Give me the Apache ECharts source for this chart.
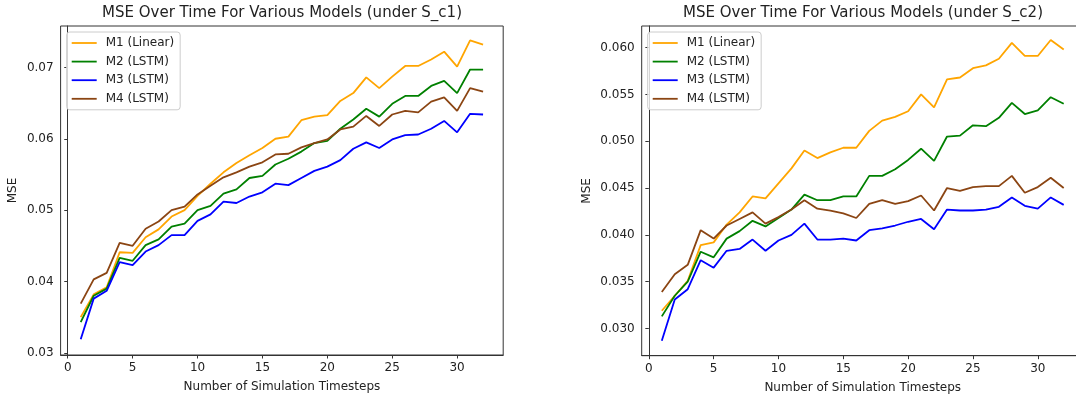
<!DOCTYPE html>
<html>
<head>
<meta charset="utf-8">
<script src="https://cdn.jsdelivr.net/npm/echarts@6/dist/echarts.min.js"></script>
<style>
  html, body { margin: 0; padding: 0; background: #fff; }
  #chart { width: 1076px; height: 398px; }
</style>
</head>
<body>
<div id="chart"></div>
<script>
// 横轴：模拟步数 1..32
const timesteps = [1, 2, 3, 4, 5, 6, 7, 8, 9, 10, 11, 12, 13, 14, 15, 16,
  17, 18, 19, 20, 21, 22, 23, 24, 25, 26, 27, 28, 29, 30, 31, 32];
const modelNames = ['M1 (Linear)', 'M2 (LSTM)', 'M3 (LSTM)', 'M4 (LSTM)'];

// S_c1
const c1M1 = [0.0350, 0.0382, 0.0392, 0.0441, 0.0440, 0.0462, 0.0473, 0.0491, 0.0500, 0.0520, 0.0537, 0.0553, 0.0566, 0.0577, 0.0587, 0.0600,
  0.0603, 0.0626, 0.0631, 0.0633, 0.0653, 0.0664, 0.0686, 0.0671, 0.0687, 0.0702, 0.0702, 0.0711, 0.0722, 0.0701, 0.0738, 0.0732];
const c1M2 = [0.0343, 0.0380, 0.0390, 0.0433, 0.0429, 0.0451, 0.0459, 0.0477, 0.0481, 0.0500, 0.0506, 0.0523, 0.0529, 0.0545, 0.0548, 0.0564,
  0.0572, 0.0582, 0.0594, 0.0597, 0.0614, 0.0627, 0.0642, 0.0631, 0.0649, 0.0660, 0.0660, 0.0674, 0.0681, 0.0664, 0.0697, 0.0697];
const c1M3 = [0.0319, 0.0376, 0.0387, 0.0427, 0.0423, 0.0442, 0.0451, 0.0465, 0.0465, 0.0485, 0.0494, 0.0512, 0.0510, 0.0519, 0.0525, 0.0537,
  0.0535, 0.0545, 0.0555, 0.0561, 0.0570, 0.0586, 0.0595, 0.0587, 0.0599, 0.0605, 0.0606, 0.0614, 0.0625, 0.0609, 0.0635, 0.0634];
const c1M4 = [0.0369, 0.0403, 0.0412, 0.0454, 0.0450, 0.0474, 0.0484, 0.0500, 0.0505, 0.0522, 0.0534, 0.0546, 0.0553, 0.0561, 0.0567, 0.0578,
  0.0579, 0.0588, 0.0594, 0.0599, 0.0613, 0.0617, 0.0632, 0.0618, 0.0634, 0.0639, 0.0637, 0.0652, 0.0658, 0.0639, 0.0671, 0.0666];

// S_c2
const c2M1 = [0.0319, 0.0335, 0.0351, 0.0389, 0.0392, 0.0411, 0.0424, 0.0441, 0.0439, 0.0455, 0.0471, 0.0490, 0.0482, 0.0488, 0.0493, 0.0493,
  0.0511, 0.0522, 0.0526, 0.0532, 0.0550, 0.0536, 0.0566, 0.0568, 0.0578, 0.0581, 0.0588, 0.0605, 0.0591, 0.0591, 0.0608, 0.0598];
const c2M2 = [0.0313, 0.0335, 0.0350, 0.0382, 0.0376, 0.0396, 0.0404, 0.0415, 0.0409, 0.0418, 0.0427, 0.0443, 0.0437, 0.0437, 0.0441, 0.0441,
  0.0463, 0.0463, 0.0470, 0.0480, 0.0492, 0.0479, 0.0505, 0.0506, 0.0517, 0.0516, 0.0525, 0.0541, 0.0529, 0.0533, 0.0547, 0.0540];
const c2M3 = [0.0287, 0.0331, 0.0342, 0.0373, 0.0365, 0.0383, 0.0385, 0.0395, 0.0383, 0.0394, 0.0400, 0.0412, 0.0395, 0.0395, 0.0396, 0.0394,
  0.0405, 0.0407, 0.0410, 0.0414, 0.0417, 0.0406, 0.0427, 0.0426, 0.0426, 0.0427, 0.0430, 0.0440, 0.0431, 0.0428, 0.0440, 0.0432];
const c2M4 = [0.0339, 0.0358, 0.0368, 0.0405, 0.0396, 0.0410, 0.0417, 0.0424, 0.0412, 0.0419, 0.0427, 0.0437, 0.0428, 0.0426, 0.0423, 0.0418,
  0.0433, 0.0437, 0.0433, 0.0436, 0.0442, 0.0426, 0.0450, 0.0447, 0.0451, 0.0452, 0.0452, 0.0463, 0.0445, 0.0451, 0.0461, 0.0450];

// 刻度
const xTicks = [0, 5, 10, 15, 20, 25, 30];
const c1YTicks = [0.03, 0.04, 0.05, 0.06, 0.07];
const c2YTicks = [0.030, 0.035, 0.040, 0.045, 0.050, 0.055, 0.060];

const colors = ['#FFA500', '#008000', '#0000FF', '#8B4513'];
const font = 'DejaVu Sans';
const ink = '#222';

function xAxisOf(gridIndex) {
  return {
    type: 'value', gridIndex: gridIndex, min: -0.55, max: 33.55,
    name: 'Number of Simulation Timesteps', nameLocation: 'middle', nameGap: 26,
    nameTextStyle: { fontFamily: font, fontSize: 12, color: ink },
    axisLine: { lineStyle: { color: '#333', width: 1 } },
    axisTick: { length: 3.5, lineStyle: { color: '#333' }, customValues: xTicks },
    axisLabel: { fontFamily: font, fontSize: 12, color: ink, margin: 7, customValues: xTicks },
    splitLine: { show: false }
  };
}

function yAxisOf(gridIndex, min, max, ticks, digits, gap) {
  return {
    type: 'value', gridIndex: gridIndex, min: min, max: max,
    name: 'MSE', nameLocation: 'middle', nameGap: gap,
    nameTextStyle: { fontFamily: font, fontSize: 12, color: ink },
    axisLine: { show: true, lineStyle: { color: '#333', width: 1 } },
    axisTick: { show: true, length: 3.5, lineStyle: { color: '#333' }, customValues: ticks },
    axisLabel: {
      fontFamily: font, fontSize: 12, color: ink, margin: 7, customValues: ticks,
      formatter: v => v.toFixed(digits)
    },
    splitLine: { show: false }
  };
}

function seriesOf(gridIndex, lists) {
  return lists.map((vals, k) => ({
    name: modelNames[k], type: 'line', xAxisIndex: gridIndex, yAxisIndex: gridIndex,
    data: timesteps.map((t, i) => [t, vals[i]]),
    symbol: 'none', animation: false,
    lineStyle: { color: colors[k], width: 1.8 },
    itemStyle: { color: colors[k] }
  }));
}

function legendOf(left) {
  return {
    data: modelNames, orient: 'vertical', left: left, top: 32,
    icon: 'path://M0,0 L25,0 L25,1.8 L0,1.8 Z',
    itemWidth: 25, itemHeight: 14, itemGap: 4.6,
    padding: [4, 6, 4, 5],
    backgroundColor: 'rgba(255,255,255,0.8)', borderColor: '#ccc', borderWidth: 1, borderRadius: 3,
    textStyle: { fontFamily: font, fontSize: 12, color: ink, lineHeight: 14, padding: [0, 0, 0, 4] },
    selectedMode: false
  };
}

const chart = echarts.init(document.getElementById('chart'), null, { renderer: 'canvas' });
chart.setOption({
  backgroundColor: '#fff',
  animation: false,
  title: [
    { text: 'MSE Over Time For Various Models (under S_c1)', left: 282, top: 6, textAlign: 'center', padding: 0,
      textStyle: { fontFamily: font, fontSize: 15, fontWeight: 'normal', color: ink } },
    { text: 'MSE Over Time For Various Models (under S_c2)', left: 863, top: 6, textAlign: 'center', padding: 0,
      textStyle: { fontFamily: font, fontSize: 15, fontWeight: 'normal', color: ink } }
  ],
  legend: [legendOf(66.7), legendOf(647.7)],
  grid: [
    { left: 60.6, right: 1076 - 503.2, top: 26, bottom: 398 - 355, show: true, borderColor: '#333', borderWidth: 1,
      backgroundColor: 'transparent', containLabel: false, outerBoundsMode: 'none' },
    { left: 641.7, right: 1076 - 1083.8, top: 26, bottom: 398 - 355.7, show: true, borderColor: '#333', borderWidth: 1,
      backgroundColor: 'transparent', containLabel: false, outerBoundsMode: 'none' }
  ],
  xAxis: [xAxisOf(0), xAxisOf(1)],
  yAxis: [
    yAxisOf(0, 0.0297, 0.0758, c1YTicks, 2, 42),
    yAxisOf(1, 0.0271, 0.0623, c2YTicks, 3, 49)
  ],
  series: seriesOf(0, [c1M1, c1M2, c1M3, c1M4]).concat(seriesOf(1, [c2M1, c2M2, c2M3, c2M4]))
});
</script>
</body>
</html>
